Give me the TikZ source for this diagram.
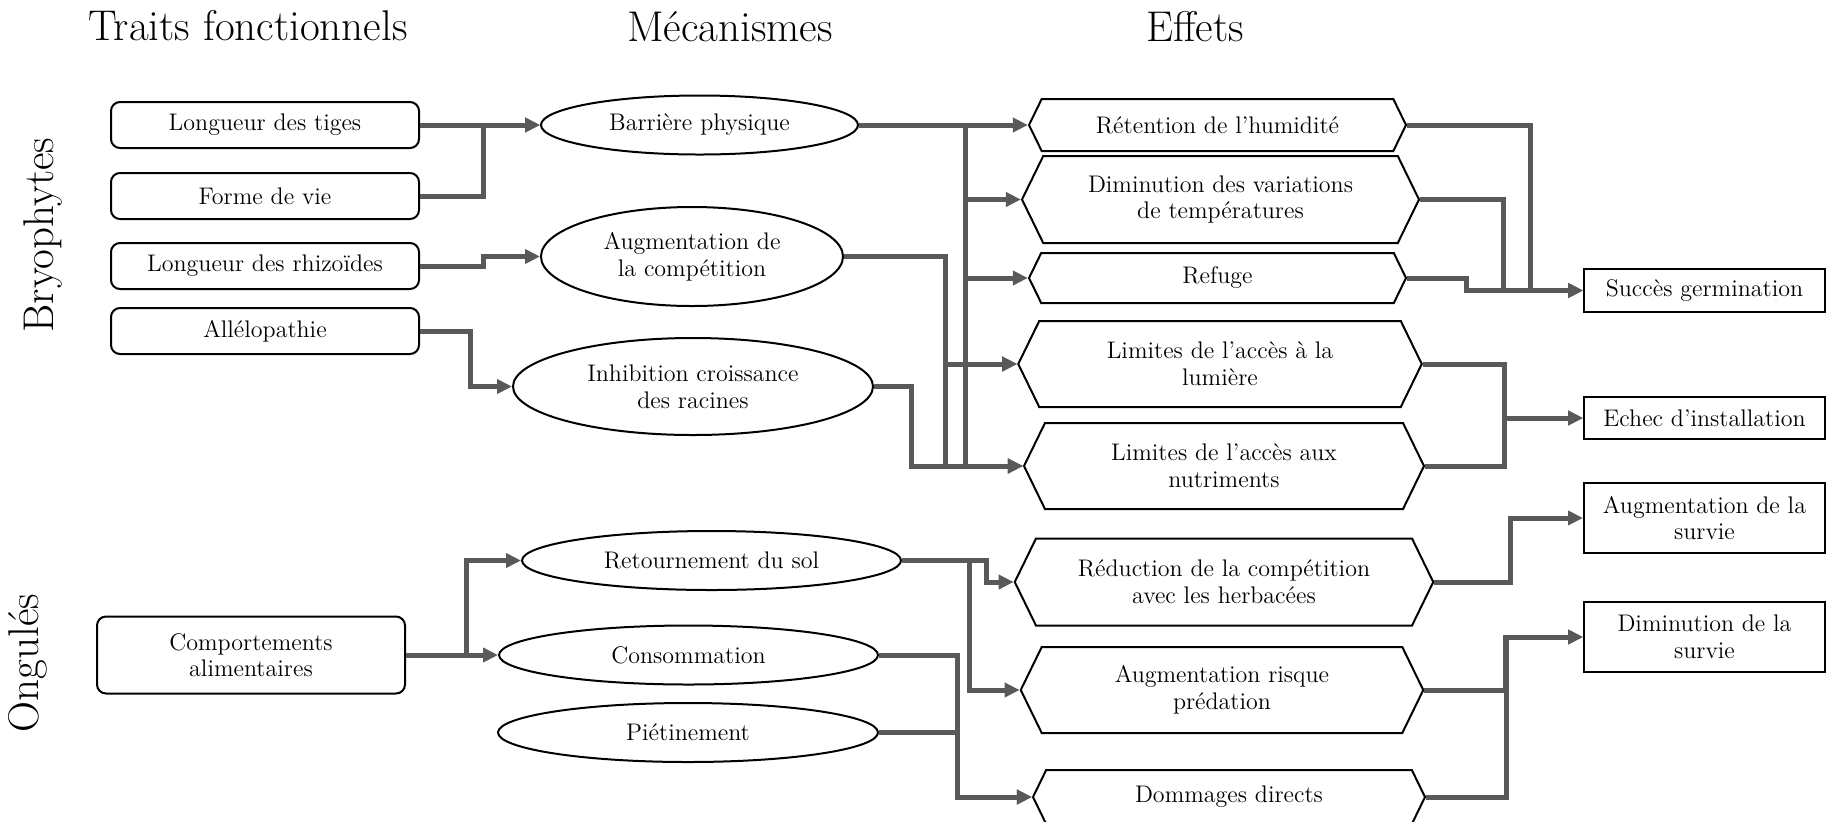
\documentclass[tikz,border=0pt]{standalone}
\usepackage{tikz}
\usetikzlibrary{arrows.meta, positioning, shapes.geometric, shapes.symbols}

\definecolor{liengris}{RGB}{89,89,89}

\begin{document}
\begin{tikzpicture}[x=0.5pt, y=-0.5pt,
  titre/.style={font=\fontsize{21.5}{24}\selectfont},
  trait/.style={draw, line width=1pt, rounded corners=4.5pt, align=center,
                font=\fontsize{12}{13.3}\selectfont, inner sep=2pt,
                minimum width=154pt, minimum height=23pt},
  meca/.style={draw, ellipse, line width=1pt, align=center,
               font=\fontsize{12}{13.3}\selectfont, inner sep=0pt},
  effet/.style={draw, signal, signal to=west and east, signal pointer angle=128,
                line width=1pt, align=center, font=\fontsize{12}{13.3}\selectfont,
                inner sep=1pt},
  issue/.style={draw, line width=1pt, align=center, font=\fontsize{12}{13.3}\selectfont,
                inner sep=2pt, minimum width=120.5pt},
  fleche/.style={-{Triangle[length=7.5pt, width=7pt]}, line width=2.5pt, liengris}
]
\useasboundingbox (0,0) rectangle (1827,821);

% column headings and groups
\node[titre, anchor=base] (htraits) at (248,40) {Traits fonctionnels};
\node[titre, anchor=base] (hmeca) at (730,41) {Mécanismes};
\node[titre, anchor=base] (heffets) at (1195,41) {Effets};
\node[titre, rotate=90] (bryo) at (43,235) {Bryophytes};
\node[titre, rotate=90] (ongules) at (28,663) {Ongulés};

% traits
\node[trait] (tiges) at (265,125) {Longueur des tiges};
\node[trait, below=11.5pt of tiges] (forme) {Forme de vie};
\node[trait, below=11pt of forme] (rhizo) {Longueur des rhizoïdes};
\node[trait, below=8.5pt of rhizo] (allelo) {Allélopathie};
\node[trait, minimum height=38.5pt] (comport) at (251,655) {Comportements\\ alimentaires};

% mechanisms
\node[meca, minimum width=158.5pt, minimum height=29.5pt] (barriere) at (699.5,125) {Barrière physique};
\node[meca, minimum width=151pt, minimum height=49.5pt] (augcomp) at (692,256.5) {Augmentation de\\ la compétition};
\node[meca, minimum width=180pt, minimum height=48.5pt] (inhib) at (693,386.5) {Inhibition croissance\\ des racines};
\node[meca, minimum width=189.5pt, minimum height=29.5pt] (retour) at (711.5,560.5) {Retournement du sol};
\node[meca, minimum width=189.5pt, minimum height=29.5pt] (conso) at (688.5,655) {Consommation};
\node[meca, minimum width=190pt, minimum height=29.5pt] (pietin) at (688,732.5) {Piétinement};

% effects
\node[effet, minimum width=188.5pt, minimum height=26pt] (retention) at (1217.5,125) {Rétention de l’humidité};
\node[effet, minimum width=198.5pt, minimum height=43.5pt] (diminution) at (1220.5,199.5) {Diminution des variations\\ de températures};
\node[effet, minimum width=188.5pt, minimum height=25pt] (refuge) at (1217.5,278) {Refuge};
\node[effet, minimum width=201.75pt, minimum height=43pt] (lumiere) at (1220,364) {Limites de l’accès à la\\ lumière};
\node[effet, minimum width=200pt, minimum height=43pt] (nutriments) at (1224,466) {Limites de l’accès aux\\ nutriments};
\node[effet, minimum width=209.25pt, minimum height=43.5pt] (reduction) at (1224,582) {Réduction de la compétition\\ avec les herbacées};
\node[effet, minimum width=201.25pt, minimum height=43pt] (predation) at (1222,690) {Augmentation risque\\ prédation};
\node[effet, minimum width=196pt, minimum height=27pt] (dommages) at (1229,797) {Dommages directs};

% outcomes
\node[issue, minimum height=21.5pt] (succes) at (1704.5,290.5) {Succès germination};
\node[issue, minimum height=21pt] (echec) at (1704.5,418) {Echec d’installation};
\node[issue, minimum height=35pt] (augsurvie) at (1704.5,518) {Augmentation de la\\ survie};
\node[issue, minimum height=35pt] (dimsurvie) at (1704.5,637) {Diminution de la\\ survie};

% traits -> mechanisms
\draw[fleche] (tiges.east) -- (barriere.west);
\draw[fleche] (forme.east) -- ++(63,0) |- (barriere.west);
\draw[fleche] (rhizo.east) -- ++(63,0) |- (augcomp.west);
\draw[fleche] (allelo.east) -- ++(50,0) |- (inhib.west);
\draw[fleche] (comport.east) -- ++(60,0) |- (retour.west);
\draw[fleche] (comport.east) -- (conso.west);

% mechanisms -> effects
\draw[fleche] (barriere.east) -- (retention.west);
\draw[fleche] (barriere.east) -- ++(106,0) |- (diminution.west);
\draw[fleche] (barriere.east) -- ++(106,0) |- (refuge.west);
\draw[fleche] (barriere.east) -- ++(106,0) |- (lumiere.west);
\draw[fleche] (barriere.east) -- ++(106,0) |- (nutriments.west);
\draw[fleche] (augcomp.east) -- ++(101.5,0) |- (lumiere.west);
\draw[fleche] (augcomp.east) -- ++(101.5,0) |- (nutriments.west);
\draw[fleche] (inhib.east) -- ++(37.5,0) |- (nutriments.west);
\draw[fleche] (retour.east) -- ++(84.5,0) |- (reduction.west);
\draw[fleche] (retour.east) -- ++(67,0) |- (predation.west);
\draw[fleche] (conso.east) -- ++(78,0) |- (dommages.west);
\draw[fleche] (pietin.east) -- ++(78,0) |- (dommages.west);

% effects -> outcomes
\draw[fleche] (retention.east) -- ++(123,0) |- (succes.west);
\draw[fleche] (diminution.east) -- ++(83,0) |- (succes.west);
\draw[fleche] (refuge.east) -- ++(59,0) |- (succes.west);
\draw[fleche] (lumiere.east) -- ++(81.5,0) |- (echec.west);
\draw[fleche] (nutriments.east) -- ++(79.5,0) |- (echec.west);
\draw[fleche] (reduction.east) -- ++(76.5,0) |- (augsurvie.west);
\draw[fleche] (predation.east) -- ++(81.5,0) |- (dimsurvie.west);
\draw[fleche] (dommages.east) -- ++(80,0) |- (dimsurvie.west);
\end{tikzpicture}
\end{document}
